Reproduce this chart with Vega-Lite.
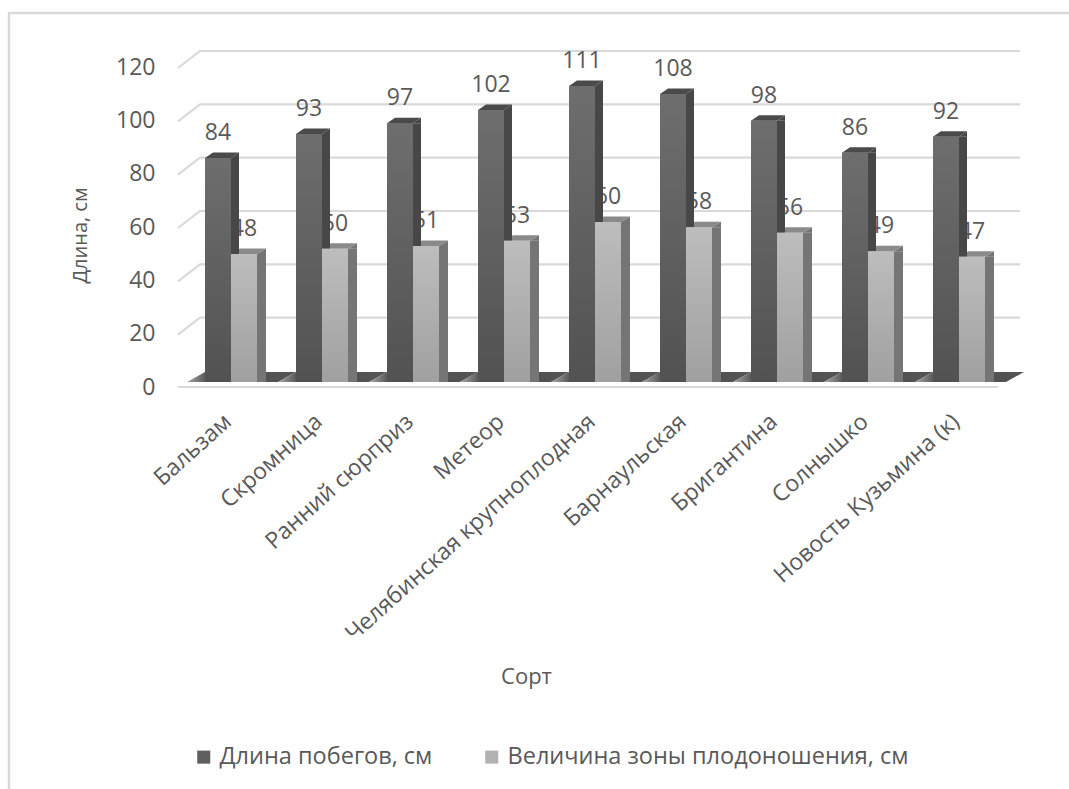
{
"$schema":"https://vega.github.io/schema/vega-lite/v6.json",
"width":842,"height":320,"autosize":{"type":"none"},
"padding":{"left":178,"top":62,"right":49,"bottom":407},
"background":"white",
"config":{"view":{"stroke":null},"font":"Open Sans"},
"data":{"values":[
{"sort":"Бальзам","series":"Длина побегов, см","value":84},
{"sort":"Скромница","series":"Длина побегов, см","value":93},
{"sort":"Ранний сюрприз","series":"Длина побегов, см","value":97},
{"sort":"Метеор","series":"Длина побегов, см","value":102},
{"sort":"Челябинская крупноплодная","series":"Длина побегов, см","value":111},
{"sort":"Барнаульская","series":"Длина побегов, см","value":108},
{"sort":"Бригантина","series":"Длина побегов, см","value":98},
{"sort":"Солнышко","series":"Длина побегов, см","value":86},
{"sort":"Новость Кузьмина (к)","series":"Длина побегов, см","value":92},
{"sort":"Бальзам","series":"Величина зоны плодоношения, см","value":48},
{"sort":"Скромница","series":"Величина зоны плодоношения, см","value":50},
{"sort":"Ранний сюрприз","series":"Величина зоны плодоношения, см","value":51},
{"sort":"Метеор","series":"Величина зоны плодоношения, см","value":53},
{"sort":"Челябинская крупноплодная","series":"Величина зоны плодоношения, см","value":60},
{"sort":"Барнаульская","series":"Величина зоны плодоношения, см","value":58},
{"sort":"Бригантина","series":"Величина зоны плодоношения, см","value":56},
{"sort":"Солнышко","series":"Величина зоны плодоношения, см","value":49},
{"sort":"Новость Кузьмина (к)","series":"Величина зоны плодоношения, см","value":47}
]},
"encoding":{
"x":{"field":"sort","type":"nominal","sort":null,"scale":{"type":"band","paddingInner":0,"paddingOuter":0,"range":[7.5,826.5]},
"axis":{"title":"Сорт","titleX":348,"titleY":294,"titleFontSize":22,"titleFontWeight":"normal","titleColor":"#595959","titleBaseline":"middle","domain":false,"ticks":false,"labelAngle":-42,"labelAlign":"right","labelBaseline":"middle","labelPadding":36,"labelOffset":-3,"labelFontSize":23,"labelColor":"#595959","labelLimit":500}},
"y":{"field":"value","type":"quantitative","scale":{"domain":[0,120],"nice":false},
"axis":{"title":"Длина, см","titleX":-88,"titleY":173,"titleFontSize":20,"titleFontWeight":"normal","titleColor":"#595959","domain":false,"ticks":false,"grid":false,"values":[0,20,40,60,80,100,120],"labelPadding":23,"labelOffset":5,"labelFontSize":23,"labelColor":"#595959"}}
},
"layer":[
{"data":{"values":[{"g":0}]},"mark":{"type":"point","shape":"M-222 407 L-222 -369 L838 -369","size":4,"filled":false,"stroke":"#d9d9d9","strokeWidth":2.5,"opacity":1},
"encoding":{"x":{"datum":"Бальзам"},"y":{"field":"g","type":"quantitative"}}},
{"data":{"values":[{"g":20},{"g":40},{"g":60},{"g":80},{"g":100},{"g":120}]},"mark":{"type":"point","shape":"M-53 6 L-31 -11 L789 -11","size":4,"filled":false,"stroke":"#d9d9d9","strokeWidth":2.2,"opacity":1},
"encoding":{"x":{"datum":"Бальзам"},"y":{"field":"g","type":"quantitative"}}},
{"data":{"values":[{"g":0}]},"mark":{"type":"point","shape":"M-53 5 L767 5","size":4,"filled":false,"stroke":"#d9d9d9","strokeWidth":2.2,"opacity":1},
"encoding":{"x":{"datum":"Бальзам"},"y":{"field":"g","type":"quantitative"}}},
{"transform":[{"filter":"datum.series==='Длина побегов, см'"}],"mark":{"type":"point","shape":"M-44 0 L-26 -10 L65 -10 L47 0 Z","size":4,"filled":true,"opacity":1,"strokeWidth":0,"fill":{"gradient":"linear","x1":0,"y1":0,"x2":1,"y2":0,"stops":[{"offset":0,"color":"#a8a8a8"},{"offset":0.2,"color":"#4a4a4a"},{"offset":1,"color":"#555555"}]}},
"encoding":{"y":{"datum":0}}},
{"transform":[{"filter":"datum.series==='Величина зоны плодоношения, см'"}],"mark":{"type":"text","fontSize":23,"color":"#595959","xOffset":13,"yOffset":-25,"baseline":"middle"},"encoding":{"text":{"field":"value"}}},
{"transform":[{"filter":"datum.series==='Величина зоны плодоношения, см'"}],"mark":{"type":"bar","width":26,"xOffset":22,"fill":"#757575"}},
{"transform":[{"filter":"datum.series==='Величина зоны плодоношения, см'"}],"mark":{"type":"point","shape":"M26 0 L35 -5.5 L35 0 Z","size":4,"filled":true,"opacity":1,"strokeWidth":0,"fill":"#757575"}},
{"transform":[{"filter":"datum.series==='Величина зоны плодоношения, см'"}],"mark":{"type":"point","shape":"M0 0 L9 -5.5 L35 -5.5 L26 0 Z","size":4,"filled":true,"opacity":1,"strokeWidth":0,"fill":"#8a8a8a"}},
{"transform":[{"filter":"datum.series==='Длина побегов, см'"}],"mark":{"type":"bar","width":26,"xOffset":-5,"fill":"#474747"}},
{"transform":[{"filter":"datum.series==='Длина побегов, см'"}],"mark":{"type":"point","shape":"M0 0 L8 -5.5 L8 0 Z","size":4,"filled":true,"opacity":1,"strokeWidth":0,"fill":"#474747"}},
{"transform":[{"filter":"datum.series==='Длина побегов, см'"}],"mark":{"type":"point","shape":"M-26 0 L-18 -5.5 L8 -5.5 L0 0 Z","size":4,"filled":true,"opacity":1,"strokeWidth":0,"fill":"#4a4a4a"}},
{"transform":[{"filter":"datum.series==='Длина побегов, см'"}],"mark":{"type":"bar","width":26,"xOffset":-13},
"encoding":{"color":{"field":"series","type":"nominal","sort":["Длина побегов, см","Величина зоны плодоношения, см"],"scale":{"domain":["Длина побегов, см","Величина зоны плодоношения, см"],"range":["#5f5f5f","#b2b2b2"]},
"legend":{"title":null,"orient":"none","direction":"horizontal","legendX":14,"legendY":683,"symbolType":"square","symbolSize":170,"symbolStrokeWidth":0,"labelFontSize":23.5,"labelColor":"#595959","columnPadding":47,"labelLimit":500}}}},
{"transform":[{"filter":"datum.series==='Величина зоны плодоношения, см'"}],"mark":{"type":"bar","width":26,"xOffset":13},
"encoding":{"color":{"field":"series","type":"nominal"}}},
{"transform":[{"filter":"datum.series==='Длина побегов, см'"}],"mark":{"type":"bar","width":26,"xOffset":-13,"fill":{"gradient":"linear","x1":0,"y1":0,"x2":0,"y2":1,"stops":[{"offset":0,"color":"#6e6e6e"},{"offset":1,"color":"#525252"}]}}},
{"transform":[{"filter":"datum.series==='Величина зоны плодоношения, см'"}],"mark":{"type":"bar","width":26,"xOffset":13,"fill":{"gradient":"linear","x1":0,"y1":0,"x2":0,"y2":1,"stops":[{"offset":0,"color":"#bdbdbd"},{"offset":1,"color":"#a0a0a0"}]}}},
{"transform":[{"filter":"datum.series==='Длина побегов, см'"}],"mark":{"type":"text","fontSize":23,"color":"#595959","xOffset":-13,"yOffset":-25,"baseline":"middle"},"encoding":{"text":{"field":"value"}}}
]
}
